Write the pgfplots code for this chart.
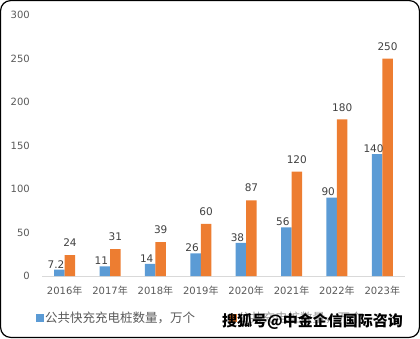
\documentclass[border=0pt]{standalone}
\usepackage{fontspec}
\setmainfont{DejaVu Sans}
\newfontfamily\cjk{Noto Sans CJK SC}
\usepackage{pgfplots}
\pgfplotsset{compat=1.18}
\definecolor{cblue}{HTML}{5B9BD5}
\definecolor{corange}{HTML}{ED7D31}
\definecolor{tickgray}{HTML}{595959}
\definecolor{labgray}{HTML}{404040}
\definecolor{axgray}{HTML}{D9D9D9}
\begin{document}
\begin{tikzpicture}
\useasboundingbox (0,0) rectangle (420pt,338pt);
\draw[line width=1.2pt, rounded corners=10pt] (0.6pt,0.6pt) rectangle (419.4pt,337.4pt);
\begin{axis}[
  at={(42pt,62pt)}, anchor=south west,
  scale only axis, width=363pt, height=261pt,
  xmin=-0.5, xmax=7.5, ymin=0, ymax=300,
  ybar, bar width=10.5pt,
  axis x line*=bottom, axis y line*=left,
  x axis line style={draw=axgray, line width=0.8pt},
  y axis line style={draw=none},
  xtick={0,...,7},
  xticklabels={2016{\cjk 年},2017{\cjk 年},2018{\cjk 年},2019{\cjk 年},2020{\cjk 年},2021{\cjk 年},2022{\cjk 年},2023{\cjk 年}},
  ytick={0,50,...,300},
  major tick length=0pt,
  tick style={draw=none},
  /pgf/number format/assume math mode=true,
  ticklabel style={font=\fontsize{10}{12}\selectfont, text=tickgray},
  yticklabel style={anchor=east, inner sep=0pt, xshift=-12pt},
  xticklabel style={anchor=north, inner sep=0pt, yshift=-9.5pt},
  legend style={at={(-0.0165,-0.161)}, anchor=west, draw=none, fill=none,
    inner sep=0pt, legend columns=2,
    font=\cjk\fontsize{12.5}{14}\selectfont, text=tickgray!60,
    /tikz/every even column/.append style={column sep=32pt},
    nodes={inner sep=1.5pt}},
]
\addplot[fill=cblue, draw=none, forget plot, bar shift=-5.25pt,
  nodes near coords,
  nodes near coords style={anchor=south, inner sep=0pt, yshift=1.5pt, xshift=-3.5pt,
    font=\fontsize{10.5}{12}\selectfont, text=labgray}]
  coordinates {(0,7.2) (1,11) (2,14) (3,26) (4,38) (5,56) (6,90) (7,140)};
\addplot[fill=corange, draw=none, forget plot, bar shift=5.25pt,
  nodes near coords,
  nodes near coords style={anchor=south, inner sep=0pt, yshift=8pt,
    font=\fontsize{10.5}{12}\selectfont, text=labgray}]
  coordinates {(0,24) (1,31) (2,39) (3,60) (4,87) (5,120) (6,180) (7,250)};
\addlegendimage{legend image code/.code={\fill[cblue] (0pt,-3.5pt) rectangle (7pt,3.5pt);}}
\addlegendentry{\textcolor{tickgray}{公共快充充电桩数量，万个}}
\addlegendimage{legend image code/.code={\fill[corange] (0pt,-3.5pt) rectangle (7pt,3.5pt);}}
\addlegendentry{公共充电桩数量，万个}
\end{axis}
\node[font=\cjk\bfseries\fontsize{15}{17}\selectfont, text=black, anchor=center] at (312.5pt,16.5pt) {搜狐号@中金企信国际咨询};
\end{tikzpicture}
\end{document}
